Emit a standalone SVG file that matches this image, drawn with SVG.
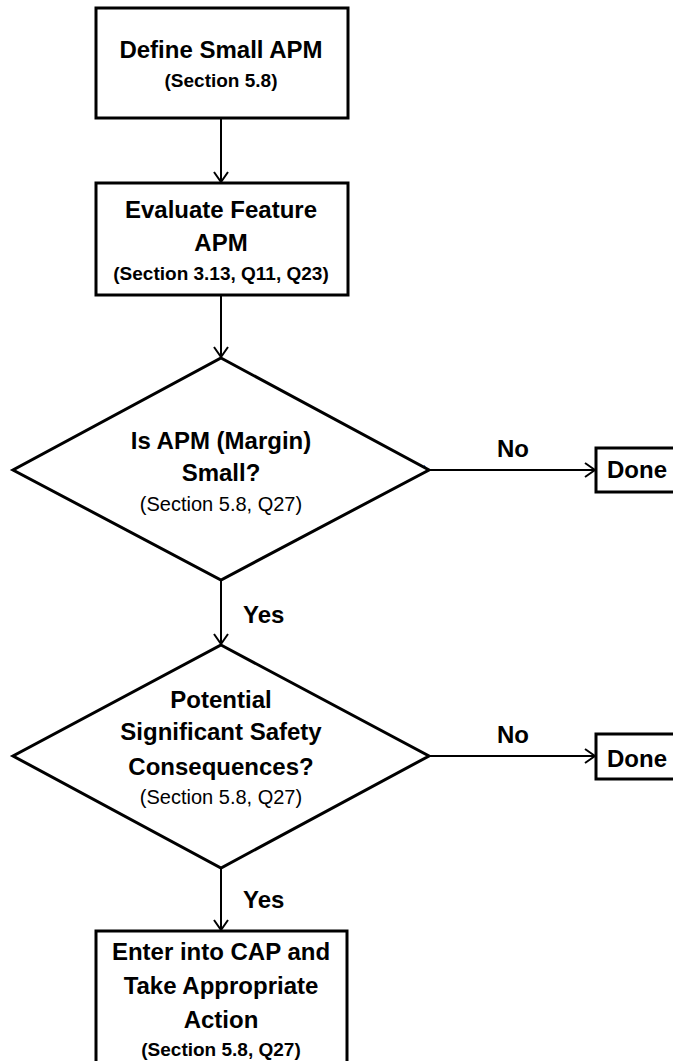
<svg xmlns="http://www.w3.org/2000/svg" width="673" height="1061" viewBox="0 0 673 1061">
<style>
.box{fill:#fff;stroke:#000;stroke-width:3}
.t{font-family:"Liberation Sans",Arial,sans-serif;font-weight:bold;font-size:24px;fill:#000;text-anchor:middle}
.s{font-family:"Liberation Sans",Arial,sans-serif;font-weight:bold;font-size:19px;fill:#000;text-anchor:middle}
.r{font-family:"Liberation Sans",Arial,sans-serif;font-weight:normal;font-size:20px;fill:#000;text-anchor:middle}
.l{font-family:"Liberation Sans",Arial,sans-serif;font-weight:bold;font-size:24px;fill:#000}
.c{fill:none;stroke:#000;stroke-width:2;marker-end:url(#arr)}
</style>
<defs>
<marker id="arr" markerWidth="12" markerHeight="16" refX="11" refY="8" orient="auto" markerUnits="userSpaceOnUse">
<path d="M1,1 L11,8 L1,15" fill="none" stroke="#000" stroke-width="2"/>
</marker>
</defs>
<rect width="673" height="1061" fill="#fff"/>
<g id="connectors">
<line class="c" x1="221" y1="118" x2="221" y2="182"/>
<line class="c" x1="221" y1="295" x2="221" y2="357"/>
<line class="c" x1="429" y1="470" x2="595" y2="470"/>
<line class="c" x1="221" y1="580" x2="221" y2="644"/>
<line class="c" x1="429" y1="756" x2="595" y2="756"/>
<line class="c" x1="221" y1="868" x2="221" y2="930"/>
<path d="M424,465 L428,470" fill="none" stroke="#4472c4" stroke-width="1"/>
<text class="l" x="497" y="457">No</text>
<text class="l" x="243" y="623">Yes</text>
<text class="l" x="497" y="743">No</text>
<text class="l" x="243" y="908">Yes</text>
</g>
<g id="define">
<rect class="box" x="96" y="8" width="252" height="110"/>
<text class="t" x="221" y="58">Define Small APM</text>
<text class="s" x="221" y="87">(Section 5.8)</text>
</g>
<g id="evaluate">
<rect class="box" x="96" y="183" width="252" height="112"/>
<text class="t" x="221" y="218">Evaluate Feature</text>
<text class="t" x="221" y="251">APM</text>
<text class="s" x="221" y="280">(Section 3.13, Q11, Q23)</text>
</g>
<g id="decision1">
<polygon class="box" points="221,358 429,470 221,580 13,470"/>
<text class="t" x="221" y="449">Is APM (Margin)</text>
<text class="t" x="221" y="481">Small?</text>
<text class="r" x="221" y="511">(Section 5.8, Q27)</text>
</g>
<g id="done1">
<rect class="box" x="596" y="448" width="90" height="44"/>
<text class="l" x="607" y="478">Done</text>
</g>
<g id="decision2">
<polygon class="box" points="221,645 429,756 221,868 13,756"/>
<text class="t" x="221" y="708">Potential</text>
<text class="t" x="221" y="740">Significant Safety</text>
<text class="t" x="221" y="775">Consequences?</text>
<text class="r" x="221" y="804">(Section 5.8, Q27)</text>
</g>
<g id="done2">
<rect class="box" x="596" y="734" width="90" height="45"/>
<text class="l" x="607" y="767">Done</text>
</g>
<g id="enter">
<rect class="box" x="96" y="931" width="251" height="140"/>
<text class="t" x="221" y="960">Enter into CAP and</text>
<text class="t" x="221" y="994">Take Appropriate</text>
<text class="t" x="221" y="1028">Action</text>
<text class="s" x="221" y="1056">(Section 5.8, Q27)</text>
</g>
</svg>
